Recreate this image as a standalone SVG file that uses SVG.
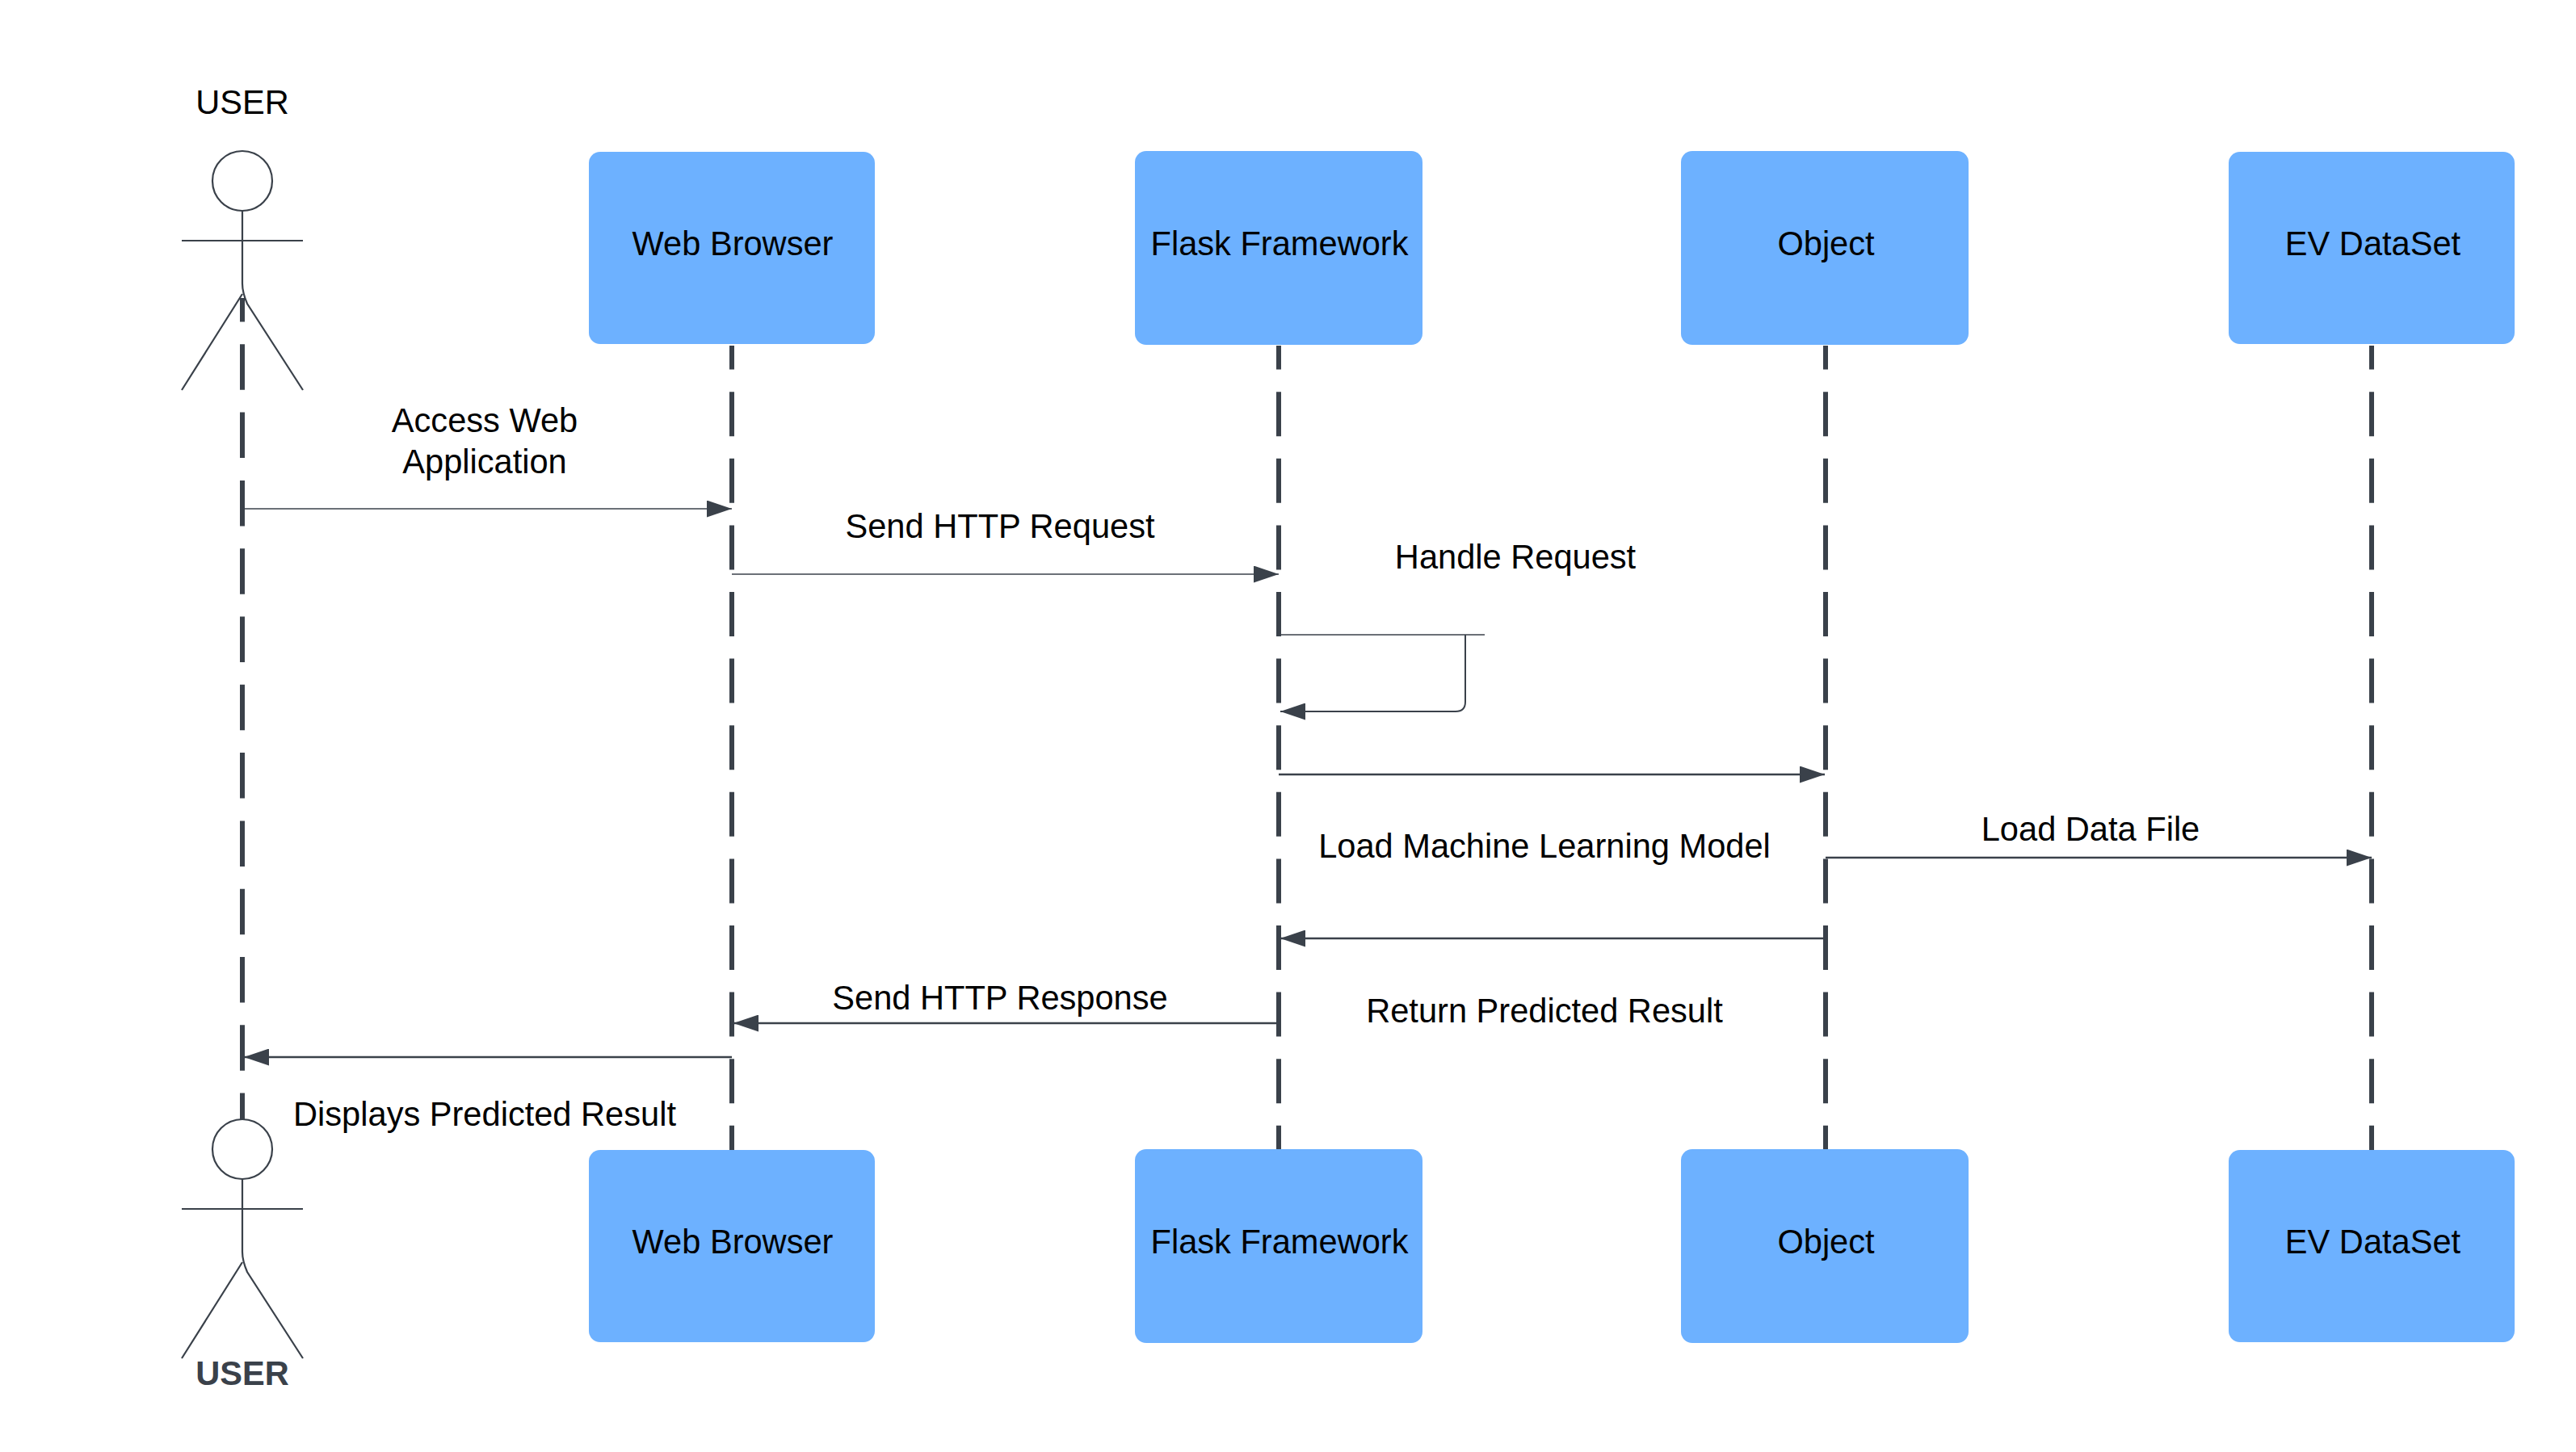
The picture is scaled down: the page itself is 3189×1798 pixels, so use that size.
<svg xmlns="http://www.w3.org/2000/svg" width="3189" height="1798" viewBox="0 0 3189 1798">
<style>
text{font-family:"Liberation Sans",Arial,sans-serif;font-size:41.6px;fill:#000;text-anchor:middle}
.box{fill:#6db1ff}
.fig{fill:none;stroke:#3a414a;stroke-width:2.2}
.life{fill:none;stroke:#3a414a;stroke-width:6;stroke-dasharray:55 27.6;stroke-dashoffset:25.4}
.msg{fill:none;stroke:#3a414a;stroke-width:2.5;marker-end:url(#arrow)}
.thin{stroke-width:1.3}
</style>
<defs>
<marker id="arrow" markerUnits="userSpaceOnUse" viewBox="0 0 31 21" refX="31" refY="10.5" markerWidth="31" markerHeight="21" orient="auto"><path d="M0 0L31 10.5L0 21Z" fill="#3a414a"/></marker>
</defs>
<rect width="3189" height="1798" fill="#fff"/>
<g id="connectors">
<path class="life" style="stroke-dasharray:56.5 27.8;stroke-dashoffset:27" d="M300 369V1386"/>
<path class="life" d="M906 428V1424"/>
<path class="life" d="M1583 428V1424"/>
<path class="life" d="M2260 428V1424"/>
<path class="life" d="M2936 428V1424"/>
<path class="msg thin" d="M303 630H906"/>
<path class="msg thin" d="M906 711H1583"/>
<path class="msg thin" style="marker-end:none" d="M1586 786H1838"/>
<path class="msg" style="stroke-width:2" d="M1814 786V869Q1814 881 1802 881H1585"/>
<path class="msg" d="M1583 959H2259"/>
<path class="msg" d="M2260 1062H2936"/>
<path class="msg" d="M2258 1162H1585"/>
<path class="msg" d="M1583 1267H908"/>
<path class="msg" d="M906 1309H302"/>
</g>
<g id="user-top">
<text x="300" y="140.500">USER</text>
<circle class="fig" cx="300" cy="224" r="37"/>
<path class="fig" d="M300 261V351Q300 362 306 376L375 483M225 298H375M300 364L225 483"/>
</g>
<g id="web-top"><rect class="box" x="729" y="188" width="354" height="238" rx="14"/><text x="907" y="316">Web Browser</text></g>
<g id="flask-top"><rect class="box" x="1405" y="187" width="356" height="240" rx="14"/><text x="1584" y="316">Flask Framework</text></g>
<g id="object-top"><rect class="box" x="2081" y="187" width="356" height="240" rx="14"/><text x="2260.500" y="316">Object</text></g>
<g id="ev-top"><rect class="box" x="2759" y="188" width="354" height="238" rx="14"/><text x="2937.500" y="316">EV DataSet</text></g>
<g id="user-bottom">
<circle class="fig" cx="300" cy="1423" r="37"/>
<path class="fig" d="M300 1460V1550Q300 1561 306 1575L375 1682M225 1497H375M300 1563L225 1682"/>
<text x="300" y="1715" style="font-weight:700;fill:#3a414a">USER</text>
</g>
<g id="web-bottom"><rect class="box" x="729" y="1424" width="354" height="238" rx="14"/><text x="907" y="1552">Web Browser</text></g>
<g id="flask-bottom"><rect class="box" x="1405" y="1423" width="356" height="240" rx="14"/><text x="1584" y="1552">Flask Framework</text></g>
<g id="object-bottom"><rect class="box" x="2081" y="1423" width="356" height="240" rx="14"/><text x="2260.500" y="1552">Object</text></g>
<g id="ev-bottom"><rect class="box" x="2759" y="1424" width="354" height="238" rx="14"/><text x="2937.500" y="1552">EV DataSet</text></g>
<g id="labels">
<text x="600" y="535">Access Web</text>
<text x="600" y="585.500">Application</text>
<text x="1238" y="666">Send HTTP Request</text>
<text x="1876" y="704">Handle Request</text>
<text x="1912" y="1062">Load Machine Learning Model</text>
<text x="2588" y="1041">Load Data File</text>
<text x="1238" y="1250">Send HTTP Response</text>
<text x="1912" y="1266">Return Predicted Result</text>
<text x="600" y="1394">Displays Predicted Result</text>
</g>
</svg>
